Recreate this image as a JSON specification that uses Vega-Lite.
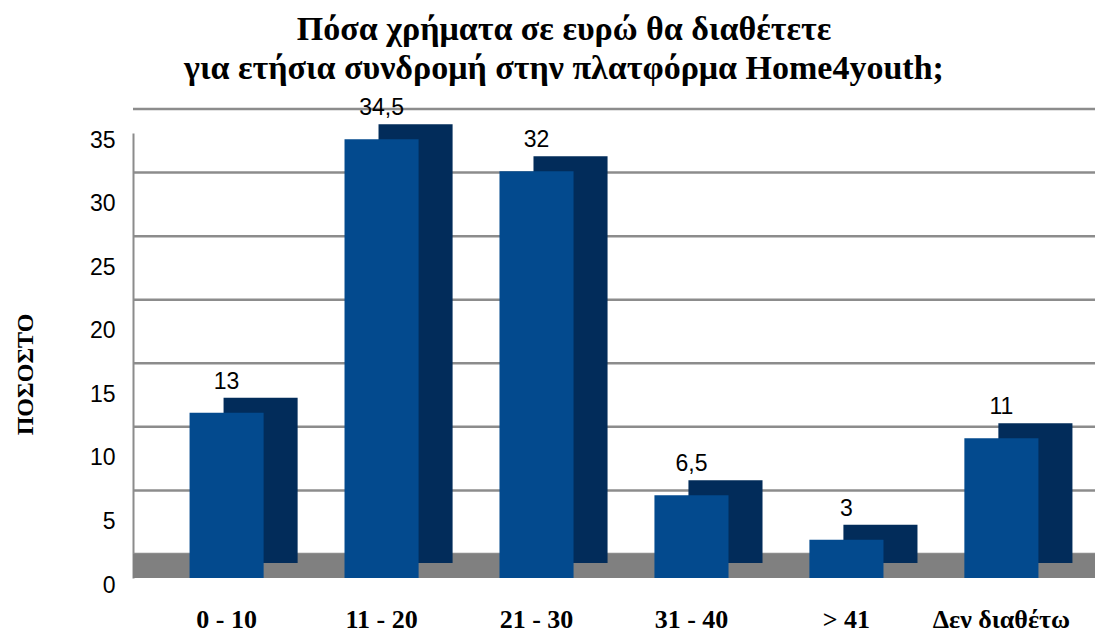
{
  "$schema": "https://vega.github.io/schema/vega-lite/v6.json",
  "width": 962,
  "height": 445,
  "autosize": {"type": "none"},
  "padding": {"left": 133, "top": 133, "right": 17, "bottom": 56},
  "background": "white",
  "config": {
    "view": {"stroke": null},
    "locale": {"number": {"decimal": ",", "thousands": ".", "grouping": [3], "currency": ["", " €"]}}
  },
  "title": {
    "text": ["Πόσα χρήματα σε ευρώ θα διαθέτετε", "για ετήσια συνδρομή στην πλατφόρμα Home4youth;"],
    "font": "Liberation Serif",
    "fontSize": 34,
    "fontWeight": "bold",
    "color": "black",
    "lineHeight": 39,
    "anchor": "middle",
    "frame": "group",
    "dx": -50,
    "offset": 11
  },
  "layer": [
    {
      "data": {"values": [{"g": 0}, {"g": 5}, {"g": 10}, {"g": 15}, {"g": 20}, {"g": 25}, {"g": 30}, {"g": 35}]},
      "mark": {"type": "rule", "yOffset": -24, "color": "#8c8c8c", "strokeWidth": 2.5},
      "encoding": {
        "y": {
          "field": "g",
          "type": "quantitative",
          "scale": {"domain": [0, 35], "nice": false},
          "axis": {
            "values": [0, 5, 10, 15, 20, 25, 30, 35],
            "grid": false,
            "ticks": false,
            "domain": true,
            "domainColor": "#8c8c8c",
            "domainWidth": 2,
            "labelFont": "Liberation Sans",
            "labelFontSize": 23,
            "labelColor": "black",
            "labelPadding": 18,
            "labelOffset": 7,
            "title": "ΠΟΣΟΣΤΟ",
            "titleFont": "Liberation Serif",
            "titleFontSize": 24,
            "titleFontWeight": "bold",
            "titleColor": "black",
            "titlePadding": 52,
            "titleY": 241
          }
        }
      }
    },
    {
      "data": {"values": [{"g": 0}]},
      "mark": {"type": "rect", "color": "#808080", "y2Offset": -24},
      "encoding": {
        "y": {"field": "g", "type": "quantitative"},
        "y2": {"field": "g"}
      }
    },
    {
      "data": {"name": "main"},
      "mark": {"type": "bar", "color": "#022c5a", "xOffset": 34, "yOffset": -15},
      "encoding": {
        "x": {
          "field": "category",
          "type": "nominal",
          "sort": null,
          "scale": {"paddingInner": 0.522, "paddingOuter": 0.365},
          "axis": {
            "title": null,
            "ticks": false,
            "domain": false,
            "labelAngle": 0,
            "labelFont": "Liberation Serif",
            "labelFontSize": 26,
            "labelFontWeight": "bold",
            "labelColor": "black",
            "labelPadding": 28,
            "labelDx": -18
          }
        },
        "y": {"field": "value", "type": "quantitative"}
      }
    },
    {
      "data": {"name": "main"},
      "mark": {"type": "bar", "color": "#034a8e"},
      "encoding": {
        "x": {"field": "category", "type": "nominal", "sort": null},
        "y": {"field": "value", "type": "quantitative"}
      }
    },
    {
      "data": {"name": "main"},
      "mark": {"type": "text", "font": "Liberation Sans", "fontSize": 23, "color": "black", "baseline": "alphabetic", "dy": -24},
      "encoding": {
        "x": {"field": "category", "type": "nominal", "sort": null},
        "y": {"field": "value", "type": "quantitative"},
        "text": {"field": "value", "type": "quantitative", "format": ",.1~f"}
      }
    }
  ],
  "datasets": {
    "main": [
      {"category": "0 - 10", "value": 13},
      {"category": "11 - 20", "value": 34.5},
      {"category": "21 - 30", "value": 32},
      {"category": "31 - 40", "value": 6.5},
      {"category": "> 41", "value": 3},
      {"category": "Δεν διαθέτω", "value": 11}
    ]
  }
}
